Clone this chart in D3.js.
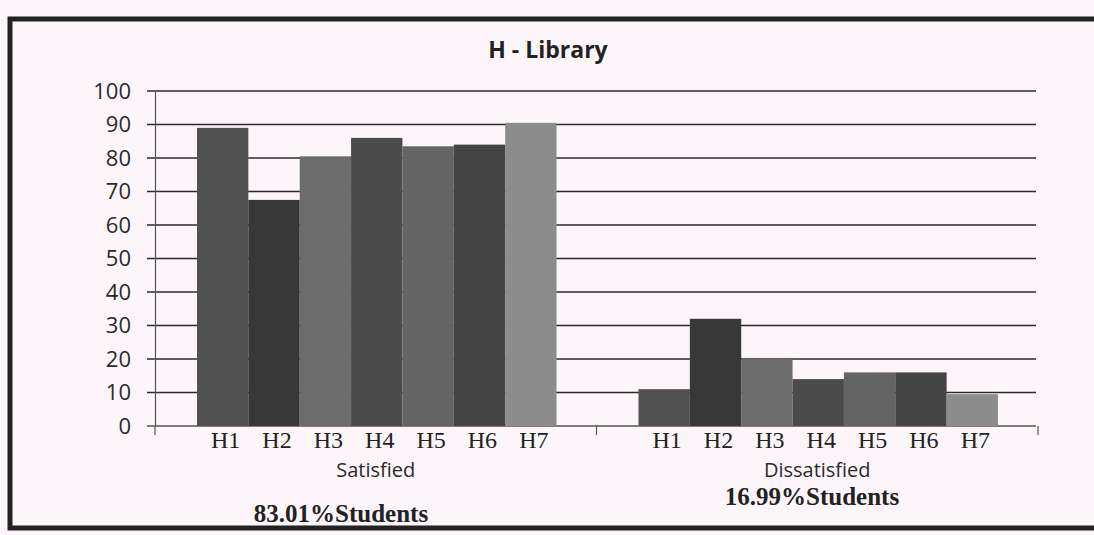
<!DOCTYPE html>
<html>
<head>
<meta charset="utf-8">
<script src="https://cdn.jsdelivr.net/npm/d3@7"></script>
<style>
  html, body { margin: 0; padding: 0; background: #fcf6fa; }
  svg { display: block; }
</style>
</head>
<body>
<div id="chart"></div>
<script>
// datos
const groups = ["Satisfied", "Dissatisfied"];
const items = ["H1", "H2", "H3", "H4", "H5", "H6", "H7"];
const satisfied = [89, 67.5, 80.5, 86, 83.5, 84, 90.5];
const dissatisfied = [11, 32, 20, 14, 16, 16, 9.5];
const yTicks = [0, 10, 20, 30, 40, 50, 60, 70, 80, 90, 100];
const footers = ["83.01%Students", "16.99%Students"];
const barColors = ["#515151", "#383838", "#6c6c6c", "#4b4b4b", "#646464", "#444444", "#8c8c8c"];

const width = 1094, height = 535;

const svg = d3.select("#chart").append("svg")
  .attr("width", width)
  .attr("height", height);

// marco exterior
svg.append("path")
  .attr("d", "M 1100 19 L 10 19 L 10 528 L 1100 528")
  .attr("fill", "none")
  .attr("stroke", "#222")
  .attr("stroke-width", 5);

// titulo
svg.append("text")
  .attr("x", 548).attr("y", 58)
  .attr("text-anchor", "middle")
  .attr("font-family", "'Open Sans', sans-serif")
  .attr("font-weight", "bold")
  .attr("font-size", 23)
  .attr("fill", "#222")
  .text("H - Library");

// escalas
const y = d3.scaleLinear().domain([0, 100]).range([426, 91]);
const x0 = d3.scaleBand().domain(groups).range([155, 1038]);
const x1 = d3.scaleBand().domain(items).range([42, x0.bandwidth() - 40]);

const series = { "Satisfied": satisfied, "Dissatisfied": dissatisfied };

// lineas de la grilla
svg.append("g")
  .selectAll("line")
  .data(yTicks)
  .join("line")
  .attr("x1", 147).attr("x2", 1036)
  .attr("y1", d => y(d)).attr("y2", d => y(d))
  .attr("stroke", d => d === 0 ? "#555" : "#2b2b2b")
  .attr("stroke-width", 1.4);

// eje y
const yAxis = svg.append("g")
  .attr("transform", "translate(155,0)")
  .call(d3.axisLeft(y).tickValues(yTicks).tickSize(0).tickPadding(24));
yAxis.select(".domain").attr("stroke", "#555").attr("stroke-width", 1.2);
yAxis.selectAll("text")
  .attr("font-family", "'Open Sans', sans-serif")
  .attr("font-size", 22)
  .attr("fill", "#2a2a2a");
svg.append("line")
  .attr("x1", 155).attr("x2", 155)
  .attr("y1", y(0)).attr("y2", y(0) + 9)
  .attr("stroke", "#555").attr("stroke-width", 1.2);

// barras
const g = svg.append("g")
  .selectAll("g")
  .data(groups)
  .join("g")
  .attr("transform", d => `translate(${x0(d)},0)`);

g.selectAll("rect")
  .data(grp => series[grp].map((v, i) => ({ key: items[i], value: v, i: i })))
  .join("rect")
  .attr("x", d => x1(d.key))
  .attr("width", x1.bandwidth())
  .attr("y", d => y(d.value))
  .attr("height", d => y(0) - y(d.value))
  .attr("fill", d => barColors[d.i]);

// eje x (ticks entre grupos)
svg.append("g")
  .selectAll("line")
  .data([x0("Dissatisfied"), x0.range()[1]])
  .join("line")
  .attr("x1", d => d).attr("x2", d => d)
  .attr("y1", y(0)).attr("y2", y(0) + 9)
  .attr("stroke", "#555").attr("stroke-width", 1.2);

// etiquetas H1..H7
g.selectAll("text.item")
  .data(items)
  .join("text")
  .attr("class", "item")
  .attr("x", d => x1(d) + x1.bandwidth() / 2 + 3)
  .attr("y", 448)
  .attr("text-anchor", "middle")
  .attr("font-family", "'Liberation Serif', serif")
  .attr("font-size", 24)
  .attr("fill", "#222")
  .text(d => d);

// nombre del grupo
g.append("text")
  .attr("x", x0.bandwidth() / 2)
  .attr("y", 477)
  .attr("text-anchor", "middle")
  .attr("font-family", "'Open Sans', sans-serif")
  .attr("font-size", 20)
  .attr("fill", "#2a2a2a")
  .text(d => d);

// porcentaje de estudiantes
svg.selectAll("text.footer")
  .data(footers)
  .join("text")
  .attr("class", "footer")
  .attr("x", (d, i) => i === 0 ? 341 : 812)
  .attr("y", (d, i) => i === 0 ? 522 : 505)
  .attr("text-anchor", "middle")
  .attr("font-family", "'Liberation Serif', serif")
  .attr("font-weight", "bold")
  .attr("font-size", 25)
  .attr("fill", "#222")
  .text(d => d);
</script>
</body>
</html>
